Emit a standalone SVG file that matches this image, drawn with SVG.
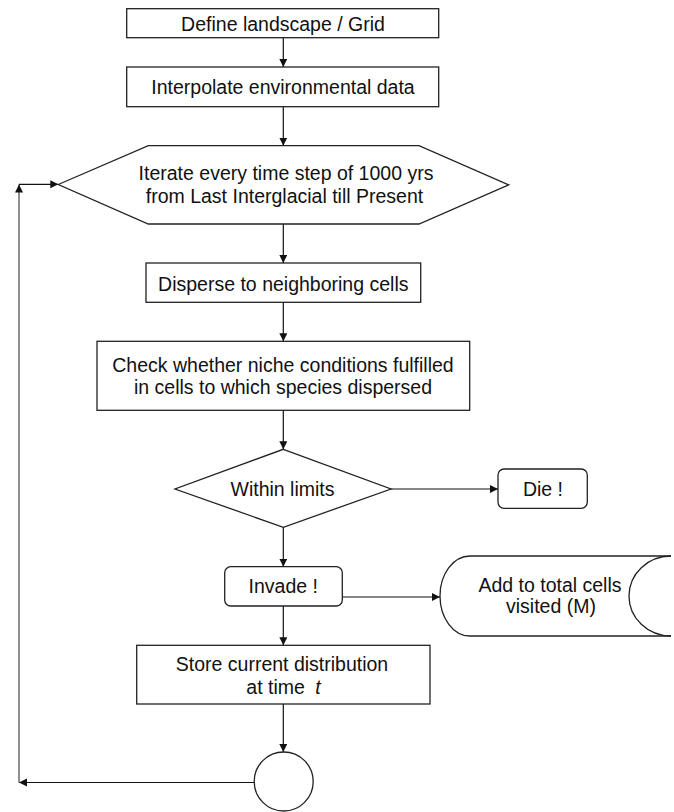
<svg xmlns="http://www.w3.org/2000/svg" width="674" height="812" viewBox="0 0 674 812">
<defs>
<marker id="ah" markerUnits="userSpaceOnUse" markerWidth="9" markerHeight="9" refX="8" refY="4" orient="auto">
<path d="M0,0 L8,4 L0,8 Z" fill="#111"/>
</marker>
<style>
.n{fill:#fff;stroke:#222;stroke-width:1.3}
.t{font-family:"Liberation Sans",Arial,Helvetica,sans-serif;font-size:19.5px;fill:#111;text-anchor:middle}
.c{fill:none;stroke:#111;stroke-width:1.2;marker-end:url(#ah)}
.g{fill:none;stroke:#6a6a6a;stroke-width:1.5;marker-end:url(#ah)}
</style>
</defs>
<rect width="674" height="812" fill="#fff"/>
<g id="connectors">
<path class="c" d="M283.3,37.7 V67"/>
<path class="c" d="M283.3,106.7 V145.7"/>
<path class="c" d="M283.3,224 V263"/>
<path class="c" d="M283.3,302.3 V341.3"/>
<path class="c" d="M283.3,410.3 V449.3"/>
<path class="c" d="M391,489 H498"/>
<path class="c" d="M283.3,527.3 V566.7"/>
<path class="c" d="M342.3,597 H440"/>
<path class="c" d="M283.3,606 V645.3"/>
<path class="c" d="M283.3,704 V752"/>
<path class="c" d="M254,782.5 H19"/>
<path class="g" d="M19,782.5 V184.5"/>
<path class="c" d="M19,184.3 H58.3"/>
</g>
<g id="define">
<rect class="n" x="126.7" y="8.7" width="312" height="29"/>
<text class="t" x="283" y="30.5">Define landscape / Grid</text>
</g>
<g id="interpolate">
<rect class="n" x="126.7" y="67" width="312" height="39.7"/>
<text class="t" x="283" y="94.3">Interpolate environmental data</text>
</g>
<g id="iterate">
<polygon class="n" points="58.3,184.5 148.3,145.7 419,145.7 508.7,184.8 419,224 148.3,224"/>
<text class="t" x="286" y="179.5">Iterate every time step of 1000 yrs</text>
<text class="t" x="284.5" y="203.3">from Last Interglacial till Present</text>
</g>
<g id="disperse">
<rect class="n" x="146" y="263" width="274.7" height="39.3"/>
<text class="t" x="283.3" y="290.5">Disperse to neighboring cells</text>
</g>
<g id="check">
<rect class="n" x="97" y="341.3" width="372.7" height="69"/>
<text class="t" x="283" y="371.7">Check whether niche conditions fulfilled</text>
<text class="t" x="283" y="393.8">in cells to which species dispersed</text>
</g>
<g id="within">
<polygon class="n" points="283.3,449.3 391,489 283.3,527.3 175,489"/>
<text class="t" x="282.5" y="496">Within limits</text>
</g>
<g id="die">
<rect class="n" x="498" y="469" width="89.3" height="39.3" rx="6"/>
<text class="t" x="543" y="496">Die !</text>
</g>
<g id="invade">
<rect class="n" x="224.7" y="566.7" width="117.6" height="39.3" rx="6"/>
<text class="t" x="283.3" y="593.3">Invade !</text>
</g>
<g id="total">
<path class="n" d="M671,556 H470 A30,40 0 0 0 470,636 H671"/>
<path class="n" style="fill:none" d="M671,556 A42,40 0 0 0 671,636"/>
<text class="t" x="550" y="591.7">Add to total cells</text>
<text class="t" x="551" y="612.5">visited (M)</text>
</g>
<g id="store">
<rect class="n" x="136.7" y="645.3" width="293.3" height="58.7"/>
<text class="t" x="282" y="670.7">Store current distribution</text>
<text class="t" x="283.5" y="694">at time <tspan dx="5" font-style="italic">t</tspan></text>
</g>
<g id="junction">
<circle class="n" cx="283.7" cy="781.5" r="29.5"/>
</g>
</svg>
